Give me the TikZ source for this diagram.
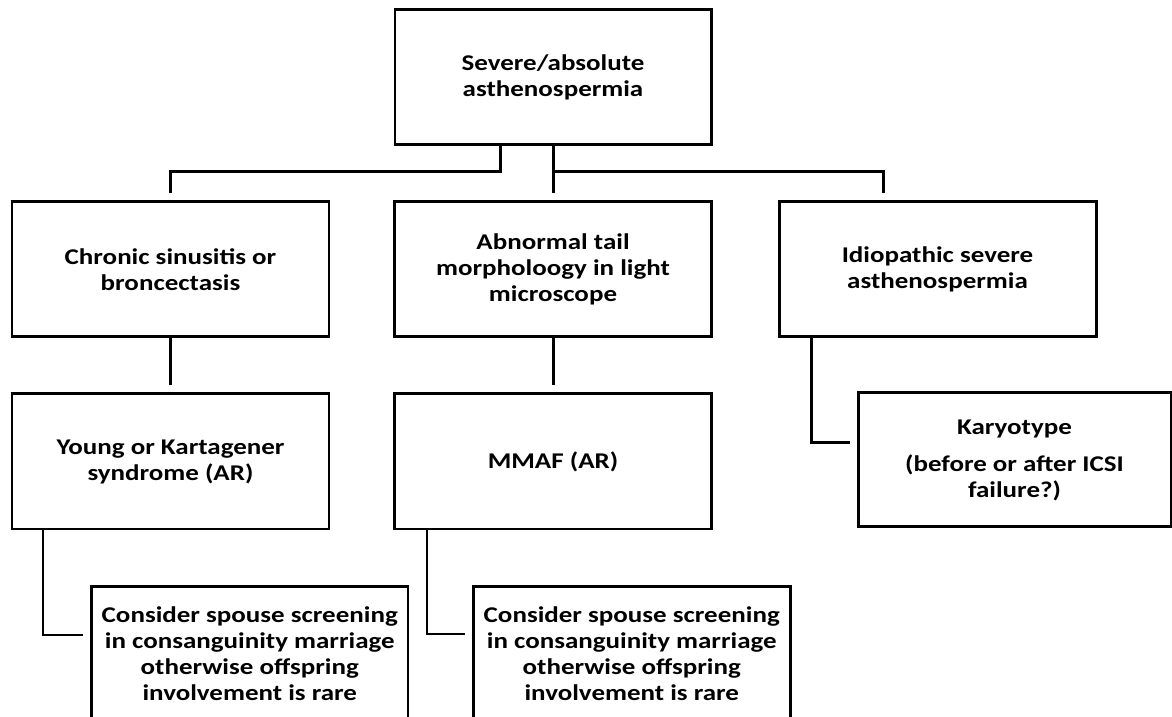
\documentclass[tikz,border=0pt]{standalone}
\usepackage{fontspec}
\setmainfont{Carlito}[FakeStretch=1.2]
\usepackage{tikz}
\usetikzlibrary{positioning,calc}
\tikzset{
  box/.style={rectangle, draw, line width=0.85pt, minimum width=3.17cm, minimum height=1.35cm, inner sep=0pt, align=center, font=\fontsize{6.4}{7.4}\selectfont\bfseries},
  conn/.style={line width=0.85pt, shorten >=0.07cm},
}

\begin{document}
\begin{tikzpicture}
  \useasboundingbox (0,0) rectangle (11.72,-7.17);

  % Top box
  \node[box, minimum width=3.16cm] (top) at (5.53,-0.775) {Severe/absolute\\asthenospermia};

  % Second row
  \node[box] (chronic) at (1.705,-2.695) {Chronic sinusitis or\\broncectasis};
  \node[box] (tail) at (5.53,-2.695) {Abnormal tail\\morpholoogy in light\\microscope};
  \node[box] (idio) at (9.375,-2.695) {Idiopathic severe\\asthenospermia};

  % Third row
  \node[box] (young) at (1.705,-4.615) {Young or Kartagener\\syndrome (AR)};
  \node[box] (mmaf) at (5.53,-4.615) {MMAF (AR)};
  \node[box, minimum width=3.13cm, minimum height=1.34cm] (karyo) at (10.145,-4.60) {Karyotype\\[3.1pt](before or after ICSI\\failure?)};

  % Fourth row
  \node[box, minimum width=3.165cm] (spouseA) at (2.4975,-6.54) {Consider spouse screening\\in consanguinity marriage\\otherwise offspring\\involvement is rare};
  \node[box, minimum width=3.165cm] (spouseB) at (6.3175,-6.54) {Consider spouse screening\\in consanguinity marriage\\otherwise offspring\\involvement is rare};

  % Connectors
  \coordinate (split) at ($(top.south)+(0,-0.25)$);
  \draw[conn] ([xshift=-5.3mm]top.south) -- ++(0,-0.25) -| (chronic.north);
  \draw[conn] (top) -- (tail);
  \draw[conn] (split) -| ([xshift=-5.45mm]idio.north);
  \draw[conn] (chronic) -- (young);
  \draw[conn] (tail) -- (mmaf);
  \draw[conn] ([xshift=-12.65mm]idio.south) |- ([yshift=1.7mm]karyo.west);
  \draw[conn] ([xshift=-12.75mm]young.south) |- ([yshift=1.9mm]spouseA.west);
  \draw[conn] ([xshift=-12.6mm]mmaf.south) |- ([yshift=2mm]spouseB.west);

\end{tikzpicture}
\end{document}
